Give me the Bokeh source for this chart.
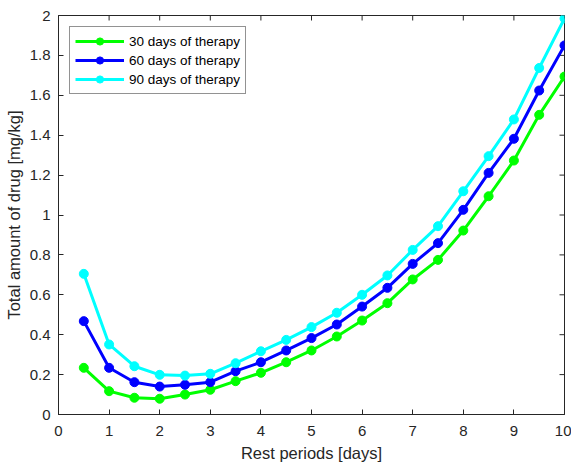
import math
from bokeh.plotting import figure
from bokeh.models import (FixedTicker, CustomJSTickFormatter, Legend, LegendItem, Range1d)
from bokeh.embed import file_html
from bokeh.resources import INLINE

rest_days = [0.5, 1, 1.5, 2, 2.5, 3, 3.5, 4, 4.5, 5, 5.5, 6, 6.5, 7, 7.5, 8, 8.5, 9, 9.5, 10]
therapy_30 = [0.234, 0.117, 0.084, 0.079, 0.100, 0.124, 0.167, 0.209, 0.262, 0.321, 0.391,
              0.471, 0.558, 0.677, 0.775, 0.922, 1.094, 1.273, 1.502, 1.694]
therapy_60 = [0.468, 0.234, 0.162, 0.140, 0.149, 0.162, 0.217, 0.262, 0.321, 0.383, 0.451,
              0.541, 0.635, 0.755, 0.859, 1.026, 1.211, 1.382, 1.624, 1.850]
therapy_90 = [0.705, 0.351, 0.242, 0.199, 0.195, 0.204, 0.257, 0.317, 0.374, 0.438, 0.510,
              0.600, 0.697, 0.825, 0.944, 1.119, 1.295, 1.479, 1.737, 1.985]
series_names = ["30 days of therapy", "60 days of therapy", "90 days of therapy"]
series_colors = ["#00FF00", "#0000FF", "#00FFFF"]
x_ticks = [0, 1, 2, 3, 4, 5, 6, 7, 8, 9, 10]
y_ticks = [0, 0.2, 0.4, 0.6, 0.8, 1.0, 1.2, 1.4, 1.6, 1.8, 2.0]
x_min, x_max = 0, 10
y_min, y_max = 0, 2

FONT = "Liberation Sans"
TXT = "#262626"

p = figure(width=571, height=466, output_backend="svg", toolbar_location=None,
           x_range=Range1d(x_min, x_max), y_range=Range1d(y_min, y_max),
           min_border_left=58, min_border_right=7, min_border_top=15, min_border_bottom=52)
p.xgrid.visible = False
p.ygrid.visible = False
p.outline_line_color = TXT
p.outline_line_width = 1
p.outline_line_alpha = 1
p.background_fill_color = "white"

fmt = CustomJSTickFormatter(code="var s = tick.toFixed(1); return s.replace(/\\.0$/, '');")

def style_axis(ax, ticks):
    ax.ticker = FixedTicker(ticks=ticks)
    ax.formatter = fmt
    ax.axis_line_color = TXT
    ax.axis_line_width = 1
    ax.major_tick_line_color = TXT
    ax.major_tick_in = 5
    ax.major_tick_out = 0
    ax.minor_tick_line_color = None
    ax.major_label_text_font = FONT
    ax.major_label_text_color = TXT
    ax.major_label_text_font_size = "15px"
    ax.axis_label_text_font = FONT
    ax.axis_label_text_font_style = "normal"
    ax.axis_label_text_color = TXT
    ax.axis_label_text_font_size = "16.5px"

xa = p.xaxis[0]
ya = p.yaxis[0]
style_axis(xa, x_ticks)
style_axis(ya, y_ticks)
xa.axis_label = "Rest periods [days]"
ya.axis_label = "Total amount of drug [mg/kg]"
xa.major_label_standoff = 11
xa.axis_label_standoff = 5
ya.major_label_standoff = 8
ya.axis_label_standoff = 4

# inward tick marks on the top and right edges of the box (MATLAB style)
p.ray(x=x_ticks, y=[y_max] * len(x_ticks), length=5, length_units="screen",
      angle=-math.pi / 2, line_color=TXT, line_width=1)
p.ray(x=[x_max] * len(y_ticks), y=y_ticks, length=5, length_units="screen",
      angle=math.pi, line_color=TXT, line_width=1)

items = []
for name, ys, col in zip(series_names, [therapy_30, therapy_60, therapy_90], series_colors):
    ln = p.line(rest_days, ys, line_color=col, line_width=3)
    sc = p.scatter(rest_days, ys, marker="circle", size=9, fill_color=col, line_color=col)
    items.append(LegendItem(label=name, renderers=[ln, sc]))

legend = Legend(items=items, location="top_left")
legend.margin = 11
legend.padding = 5
legend.spacing = 1
legend.glyph_width = 49
legend.glyph_height = 18
legend.label_height = 18
legend.label_standoff = 5
legend.label_text_font = FONT
legend.label_text_font_size = "13.5px"
legend.label_text_color = "black"
legend.border_line_color = TXT
legend.border_line_width = 1
legend.background_fill_color = "white"
legend.background_fill_alpha = 1
p.add_layout(legend, "center")

open("out.html", "w").write(file_html(p, INLINE))
